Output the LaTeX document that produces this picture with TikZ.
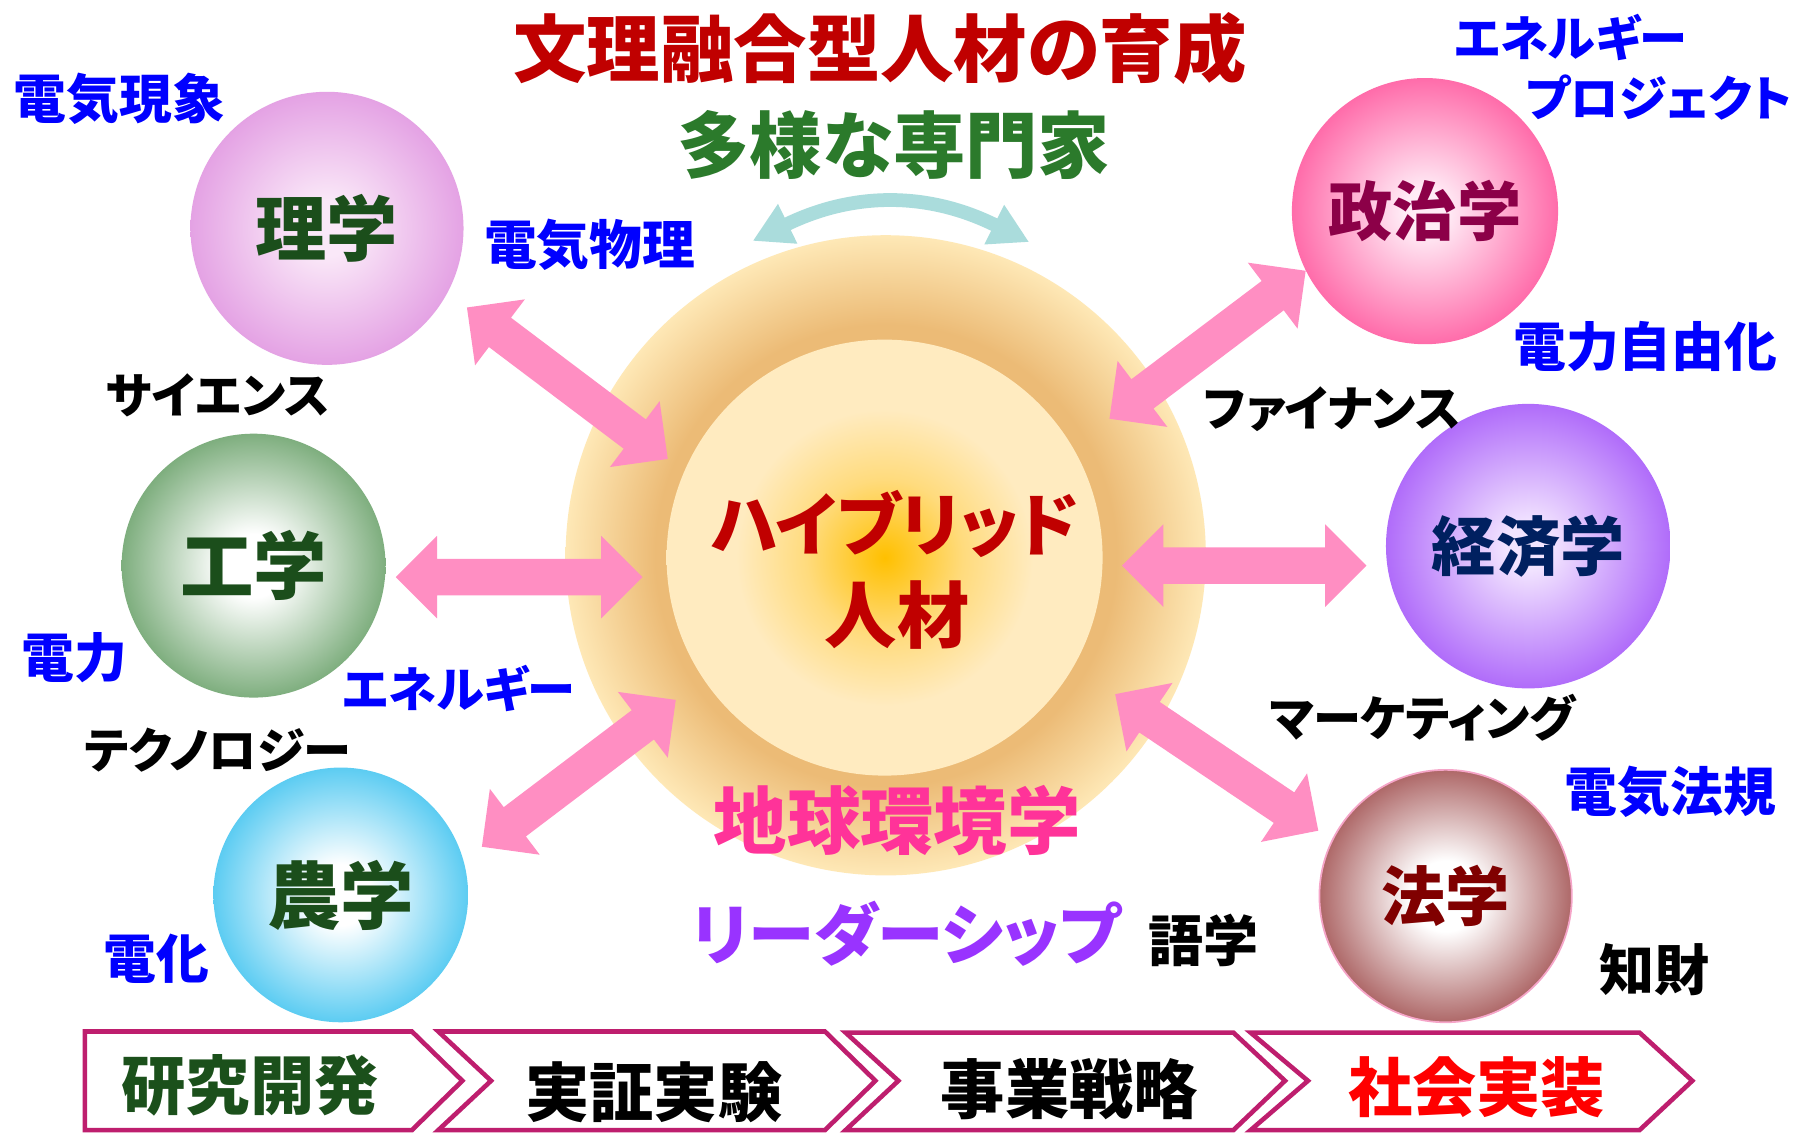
\documentclass[tikz,border=0pt]{standalone}
\usepackage{fontspec}
\newfontfamily\jp{Noto Sans CJK JP}[RawFeature=+palt]
\usetikzlibrary{arrows.meta,calc}

\definecolor{titleRed}{RGB}{192,0,0}
\definecolor{expGreen}{RGB}{43,122,43}
\definecolor{labBlue}{RGB}{0,0,255}
\definecolor{ballText}{RGB}{27,78,27}
\definecolor{polText}{RGB}{140,0,72}
\definecolor{ecoText}{RGB}{0,32,96}
\definecolor{lawText}{RGB}{128,0,0}
\definecolor{envPink}{RGB}{255,51,153}
\definecolor{leadPurple}{RGB}{153,51,255}
\definecolor{arrPink}{RGB}{255,142,194}
\definecolor{arcTeal}{RGB}{170,220,220}
\definecolor{chevLine}{RGB}{190,30,110}
\definecolor{rdGreen}{RGB}{27,80,27}
\definecolor{implRed}{RGB}{255,0,0}
\definecolor{lawRim}{RGB}{245,165,200}

\definecolor{riC}{RGB}{250,232,248}\definecolor{riE}{RGB}{228,162,228}
\definecolor{koC}{RGB}{255,255,255}\definecolor{koE}{RGB}{126,174,126}
\definecolor{noC}{RGB}{255,255,255}\definecolor{noE}{RGB}{92,204,242}
\definecolor{seC}{RGB}{255,236,246}\definecolor{seE}{RGB}{255,108,170}
\definecolor{keC}{RGB}{242,228,255}\definecolor{keE}{RGB}{176,108,250}
\definecolor{hoC}{RGB}{255,255,255}\definecolor{hoE}{RGB}{174,104,104}
\definecolor{ringD}{RGB}{236,187,118}\definecolor{ringL}{RGB}{254,232,182}
\definecolor{coreC}{RGB}{255,192,0}\definecolor{coreM}{RGB}{255,219,125}\definecolor{coreE}{RGB}{255,235,192}

\pgfdeclareradialshading{riS}{\pgfpointorigin}{color(0bp)=(riC); color(5bp)=(riC); color(25bp)=(riE); color(50bp)=(riE)}
\pgfdeclareradialshading{koS}{\pgfpointorigin}{color(0bp)=(koC); color(6bp)=(koC); color(25bp)=(koE); color(50bp)=(koE)}
\pgfdeclareradialshading{noS}{\pgfpointorigin}{color(0bp)=(noC); color(6bp)=(noC); color(25bp)=(noE); color(50bp)=(noE)}
\pgfdeclareradialshading{seS}{\pgfpointorigin}{color(0bp)=(seC); color(4bp)=(seC); color(25bp)=(seE); color(50bp)=(seE)}
\pgfdeclareradialshading{keS}{\pgfpointorigin}{color(0bp)=(keC); color(4bp)=(keC); color(25bp)=(keE); color(50bp)=(keE)}
\pgfdeclareradialshading{hoS}{\pgfpointorigin}{color(0bp)=(hoC); color(7bp)=(hoC); color(25bp)=(hoE); color(50bp)=(hoE)}
\pgfdeclareradialshading{ringS}{\pgfpointorigin}{color(0bp)=(ringD); color(18bp)=(ringD); color(25bp)=(ringL); color(50bp)=(ringL)}
\pgfdeclareradialshading{coreS}{\pgfpointorigin}{color(0bp)=(coreC); color(9bp)=(coreM); color(17bp)=(coreE); color(25bp)=(coreE); color(50bp)=(coreE)}

\newcommand\blockarrow[2]{%
  \path let \p1=(#1), \p2=(#2) in \pgfextra{%
    \pgfmathsetmacro\baAng{atan2(\y2-\y1,\x2-\x1)}%
    \pgfmathsetmacro\baLen{veclen(\x2-\x1,\y2-\y1)}%
    \xdef\baAng{\baAng}\xdef\baLen{\baLen}};
  \fill[pinkarrow, shift={(#1)}, rotate=\baAng]
    (0pt,0pt) -- (36pt,36pt) -- (36pt,16pt) -- ({\baLen pt-36pt},16pt) -- ({\baLen pt-36pt},36pt)
    -- ({\baLen pt},0pt) -- ({\baLen pt-36pt},-36pt) -- ({\baLen pt-36pt},-16pt) -- (36pt,-16pt) -- (36pt,-36pt) -- cycle;
}

\begin{document}
\begin{tikzpicture}[x=1pt,y=-1pt,
  lab/.style={font=\jp\bfseries\fontsize{#1}{#1}\selectfont, inner sep=0pt},
  ball/.style={circle, inner sep=0pt, shade},
  pinkarrow/.style={fill=arrPink},
  chev/.style={draw=chevLine, line width=4pt, line join=miter, fill=white},
  tealarc/.style={draw=arcTeal, line width=12pt,
     {Triangle[width=36pt,length=34pt]}-{Triangle[width=36pt,length=34pt]}}]
\useasboundingbox (0,0) rectangle (1568,988);
\fill[white] (0,0) rectangle (1568,988);

% titles
\node[lab=64, text=titleRed] (title) at (767,42) {文理融合型人材の育成};
\node[lab=63, text=expGreen] (experts) at (779,126) {多様な専門家};

% teal exchange arc
\coordinate (arcL) at (656,210);
\coordinate (arcR) at (897,211);
\draw[tealarc] (arcL) .. controls (744,167) and (809,167) .. (arcR);

% central sphere
\node[circle, inner sep=0pt, minimum size=558pt, shade, shading=ringS] (ring) at (772,484) {};
\node[circle, inner sep=0pt, minimum size=380pt, shade, shading=coreS] (core) at (771,486) {};

% arrow tips
\coordinate (a1o) at (407,268); \coordinate (a1i) at (582,400);
\coordinate (a2o) at (345,503); \coordinate (a2i) at (560,503);
\coordinate (a3o) at (420,738); \coordinate (a3i) at (589,610);
\coordinate (a4o) at (1138,236); \coordinate (a4i) at (967,365);
\coordinate (a5o) at (1191,493); \coordinate (a5i) at (978,493);
\coordinate (a6o) at (1149,724); \coordinate (a6i) at (972,605);
\blockarrow{a1o}{a1i}
\blockarrow{a2o}{a2i}
\blockarrow{a3o}{a3i}
\blockarrow{a4o}{a4i}
\blockarrow{a5o}{a5i}
\blockarrow{a6o}{a6i}

% core text
\node[lab=60, text=titleRed] (hyb1) at (780,457) {ハイブリッド};
\node[lab=63, text=titleRed] (hyb2) at (782,536) {人材};
\node[lab=64, text=envPink] (env) at (782,715) {地球環境学};
\node[lab=58, text=leadPurple] (lead) at (790,814) {リーダーシップ};
\node[lab=48] (lang) at (1049,820) {語学};

% discipline spheres
\node[ball, shading=riS, minimum size=238pt, lab=62, text=ballText] (ri) at (285,199) {理学};
\node[ball, shading=koS, minimum size=230pt, lab=64, text=ballText] (ko) at (221,493) {工学};
\node[ball, shading=noS, minimum size=222pt, lab=64, text=ballText] (no) at (297,780) {農学};
\node[ball, shading=seS, minimum size=232pt, lab=56, text=polText] (se) at (1242,184) {政治学};
\node[ball, shading=keS, minimum size=248pt, lab=56, text=ecoText] (ke) at (1332,476) {経済学};
\node[ball, shading=hoS, minimum size=220pt, lab=56, text=lawText, draw=lawRim, line width=1.5pt] (ho) at (1260,781) {法学};

% labels
\node[lab=46, text=labBlue] (l1) at (104,86) {電気現象};
\node[lab=46, text=labBlue] (l2) at (514,213) {電気物理};
\node[lab=42] (l3) at (190,345) {サイエンス};
\node[lab=46, text=labBlue] (l4) at (65,573) {電力};
\node[lab=42, text=labBlue] (l5) at (400,600) {エネルギー};
\node[lab=42] (l6) at (190,654) {テクノロジー};
\node[lab=46, text=labBlue] (l7) at (136,836) {電化};
\node[lab=42, text=labBlue] (l8) at (1369,33) {エネルギー};
\node[lab=42, text=labBlue] (l9) at (1446,85) {プロジェクト};
\node[lab=46, text=labBlue] (l10) at (1434,302) {電力自由化};
\node[lab=42] (l11) at (1161,357) {ファイナンス};
\node[lab=42] (l12) at (1240,626) {マーケティング};
\node[lab=46, text=labBlue] (l13) at (1456,690) {電気法規};
\node[lab=48] (l14) at (1442,845) {知財};

% process chevrons
\draw[chev] (74,899) -- (359,899) -- (403,942) -- (359,985) -- (74,985) -- cycle;
\draw[chev] (382,899) -- (719,899) -- (763,942) -- (719,985) -- (382,985) -- (428,942) -- cycle;
\draw[chev] (737,900) -- (1075,900) -- (1120,942) -- (1075,985) -- (737,985) -- (783,942) -- cycle;
\draw[chev] (1090,900) -- (1429,900) -- (1475,942) -- (1429,985) -- (1090,985) -- (1140,942) -- cycle;
\node[lab=56, text=rdGreen] (p1) at (218,946) {研究開発};
\node[lab=56] (p2) at (570,952) {実証実験};
\node[lab=56] (p3) at (932,949) {事業戦略};
\node[lab=56, text=implRed] (p4) at (1287,948) {社会実装};
\end{tikzpicture}
\end{document}
